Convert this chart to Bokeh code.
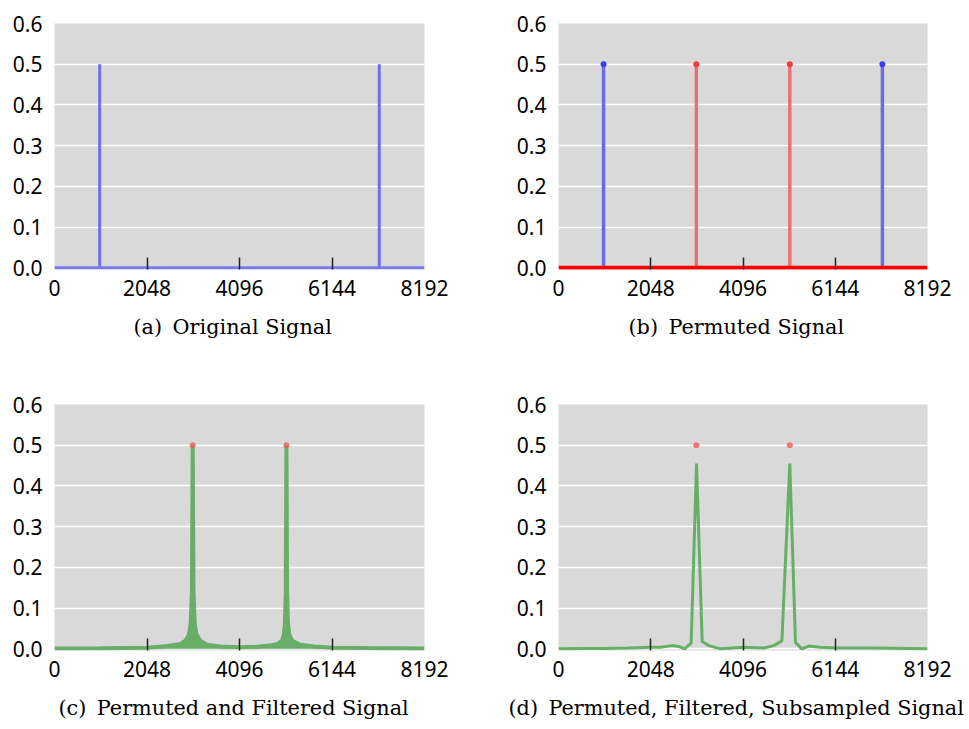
from bokeh.plotting import figure
from bokeh.models import FixedTicker, Title, Range1d, PrintfTickFormatter
from bokeh.layouts import gridplot
from bokeh.embed import file_html
from bokeh.resources import INLINE

# ---------------- data ----------------
n_samples = 8192
x_ticks = [0, 2048, 4096, 6144, 8192]
y_ticks = [0.0, 0.1, 0.2, 0.3, 0.4, 0.5, 0.6]

captions = ["(a)\u2002Original Signal", "(b)\u2002Permuted Signal",
            "(c)\u2002Permuted and Filtered Signal",
            "(d)\u2002Permuted, Filtered, Subsampled Signal"]

# original signal: two spikes
orig_x = [1000, 7190]
orig_y = [0.5, 0.5]

# permuted signal: spikes moved
perm_x = [3060, 5135]
perm_y = [0.5, 0.5]

# permuted + filtered signal (envelope)
filt_x = [0, 1024, 2048, 2500, 2790, 2900, 2975, 3015, 3042, 3060, 3078, 3105,
          3145, 3230, 3380, 3670, 4096, 4500, 4760, 4930, 5040, 5075, 5100, 5120,
          5135, 5150, 5170, 5200, 5260, 5445, 5740, 6180, 6920, 8192]
filt_y = [0.001, 0.0015, 0.003, 0.007, 0.012, 0.02, 0.035, 0.06, 0.14, 0.5, 0.14, 0.06,
          0.035, 0.02, 0.01, 0.006, 0.004, 0.005, 0.008, 0.012, 0.02, 0.035, 0.06, 0.14,
          0.5, 0.14, 0.06, 0.035, 0.02, 0.01, 0.006, 0.003, 0.002, 0.001]

# permuted, filtered, subsampled signal
sub_x = [0, 512, 1024, 1536, 2048, 2264, 2522, 2669, 2797, 2945, 3064, 3190, 3337,
         3596, 4100, 4557, 4780, 4960, 5135, 5261, 5400, 5557, 5800, 6186, 7000, 8192]
sub_y = [0.0, 0.001, 0.001, 0.002, 0.004, 0.004, 0.008, 0.006, 0.0, 0.014, 0.455, 0.018, 0.008,
         0.0, 0.004, 0.002, 0.008, 0.02, 0.455, 0.016, 0.0, 0.007, 0.004, 0.002, 0.002, 0.0]

BG = "#d9d9d9"


def make_fig(left, right, top, bottom, fw, caption, cap_offset):
    p = figure(frame_width=fw, frame_height=246,
               min_border_left=left, min_border_right=right,
               min_border_top=top, min_border_bottom=bottom,
               x_range=Range1d(0, n_samples), y_range=Range1d(-0.004, 0.6),
               output_backend="svg", toolbar_location=None,
               background_fill_color=BG, border_fill_color="white",
               outline_line_color=None)
    xa = p.xaxis[0]
    xa.ticker = FixedTicker(ticks=x_ticks, minor_ticks=x_ticks[1:-1])
    xa.axis_line_color = None
    xa.major_tick_line_color = None
    xa.major_tick_in = 0
    xa.major_tick_out = 0
    xa.minor_tick_in = 12
    xa.minor_tick_out = 0
    xa.minor_tick_line_color = "#222222"
    xa.minor_tick_line_width = 1.5
    xa.major_label_text_font = "Noto Sans"
    xa.major_label_text_font_size = "21px"
    xa.major_label_text_color = "black"
    xa.major_label_standoff = 10

    ya = p.yaxis[0]
    ya.ticker = FixedTicker(ticks=y_ticks, minor_ticks=[])
    ya.formatter = PrintfTickFormatter(format="%.1f")
    ya.axis_line_color = None
    ya.major_tick_line_color = None
    ya.major_tick_in = 0
    ya.major_tick_out = 0
    ya.minor_tick_line_color = None
    ya.major_label_text_font = "Noto Sans"
    ya.major_label_text_font_size = "21px"
    ya.major_label_text_color = "black"
    ya.major_label_standoff = 12

    p.xgrid.visible = False
    p.ygrid.ticker = FixedTicker(ticks=y_ticks, minor_ticks=[])
    p.ygrid.grid_line_color = "white"
    p.ygrid.grid_line_width = 1.5

    p.add_layout(Title(text=caption, align="left", text_font="DejaVu Serif",
                       text_font_size="20.8px", text_font_style="normal",
                       text_color="black", offset=cap_offset, standoff=28), "below")
    return p


# (a)
pa = make_fig(54, 60, 23, 105, 370, captions[0], 79)
pa.segment(x0=orig_x, y0=[0] * len(orig_x), x1=orig_x, y1=orig_y,
           line_color="#6e6ef0", line_width=3)
pa.line([0, n_samples], [0, 0], line_color="#7878f2", line_width=3)

# (b)
pb = make_fig(74, 42, 23, 105, 369, captions[1], 70)
pb.segment(x0=orig_x, y0=[0] * len(orig_x), x1=orig_x, y1=orig_y,
           line_color="#6a6ae8", line_width=3.4)
pb.segment(x0=perm_x, y0=[0] * len(perm_x), x1=perm_x, y1=perm_y,
           line_color="#ee6e6e", line_width=3.4)
pb.scatter(orig_x, orig_y, size=6, fill_color="#3c3cf0", line_color=None)
pb.scatter(perm_x, perm_y, size=6, fill_color="#f03c3c", line_color=None)
pb.line([0, n_samples], [0, 0], line_color="#ff0000", line_width=4)

# (c)
pc = make_fig(54, 60, 30, 79, 370, captions[2], 4)
pc.varea(x=filt_x, y1=[0] * len(filt_x), y2=filt_y, fill_color="#68ae68")
pc.line(filt_x, filt_y, line_color="#68ae68", line_width=4)
pc.scatter(perm_x, perm_y, size=6, fill_color="#e85a5a", fill_alpha=0.75, line_color=None)

# (d)
pd_ = make_fig(74, 42, 30, 79, 369, captions[3], -50)
pd_.line(sub_x, sub_y, line_color="#66b066", line_width=3)
pd_.scatter(perm_x, perm_y, size=6, fill_color="#f07575", line_color=None)

grid = gridplot([[pa, pb], [pc, pd_]], toolbar_location=None)

open("out.html", "w").write(file_html(grid, INLINE))
